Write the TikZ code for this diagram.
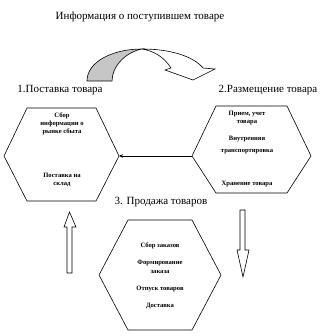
\documentclass[tikz,border=0pt]{standalone}
\usepackage{fontspec}
\setmainfont{Liberation Serif}
\usetikzlibrary{arrows.meta, positioning, calc}

\begin{document}
\begin{tikzpicture}[
  x=1pt, y=-1pt,
  font=\fontsize{11}{13}\selectfont,
  bordo/.style={draw=black, line width=0.6pt},
  voce/.style={align=center, inner sep=0pt, font=\bfseries\fontsize{6.6}{8.3}\selectfont},
  titolo/.style={inner sep=0pt, font=\fontsize{11}{13}\selectfont},
  freccia/.style={draw=black, line width=0.5pt, -{Stealth[length=4pt,width=3.5pt]}},
  cava/.style={draw=black, fill=white, line width=0.6pt}
]
\useasboundingbox (0,0) rectangle (329,336);

% ---- titoli -------------------------------------------------------
\node[titolo] (info) at (140,17) {Информация о поступившем товаре};
\node[titolo] (post) at (60,90) {1.Поставка товара};
\node[titolo] (razm) at (268,90) {2.Размещение товара};
\node[titolo] (prod) at (161,202) {3. Продажа товаров};

%==============================================================
% freccia curva in alto
%==============================================================
\draw[bordo, fill=gray!45] (87,81) .. controls (87,62) and (112,49) .. (142,49)
  .. controls (126,52) and (112,66) .. (112,81) -- cycle;
\draw[bordo, fill=white] (142,49) .. controls (172,49) and (194,57) .. (203,68)
  -- (215,69) -- (193,80) -- (165,70) -- (171,68)
  .. controls (164,57) and (154,51) .. (142,49) -- cycle;

%==============================================================
% esagoni
%==============================================================
% nome / sinistra / alto / destra / basso / centro / rientro
\foreach \nome/\L/\T/\R/\B/\M/\d in {%
  hexL/4/108/119/201/156/23,
  hexR/192/106/311/193/156/24,
  hexB/99/220/221/330/275/29} {
  \draw[bordo] (\L,\M) -- ({\L+\d},\T) -- ({\R-\d},\T) -- (\R,\M)
    -- ({\R-\d},\B) -- ({\L+\d},\B) -- cycle;
  \coordinate (\nome-w) at (\L,\M);
  \coordinate (\nome-e) at (\R,\M);
}

% testi esagono 1
\node[voce] (sbor) at (62,124) {Сбор\\информации о\\рынке сбыта};
\node[voce] (sklad) at (62,180) {Поставка на\\склад};

% testi esagono 2
\node[voce] (priem) at (247,118) {Прием, учет\\товара};
\node[voce] (vnutr) at (247,139) {Внутренняя};
\node[voce] (transp) at (247,152) {транспортировка};
\node[voce] (hran) at (247,184) {Хранение товара};

% testi esagono 3
\node[voce] (zakaz) at (160,246) {Сбор заказов};
\node[voce] (form) at (160,267) {Формирование\\заказа};
\node[voce] (otpusk) at (160,289) {Отпуск товаров};
\node[voce] (dost) at (160,306) {Доставка};

\draw[freccia] (hexR-w) -- (hexL-e);

%==============================================================
% frecce vuote
%==============================================================
\draw[cava] (67,273) -- (67,227) -- (64,227) -- (69.5,212) -- (76,227)
  -- (72,227) -- (72,273) -- cycle;
\draw[cava] (240,210) -- (240,250) -- (237,250) -- (243,277) -- (249,250)
  -- (245,250) -- (245,210) -- cycle;

\end{tikzpicture}
\end{document}
